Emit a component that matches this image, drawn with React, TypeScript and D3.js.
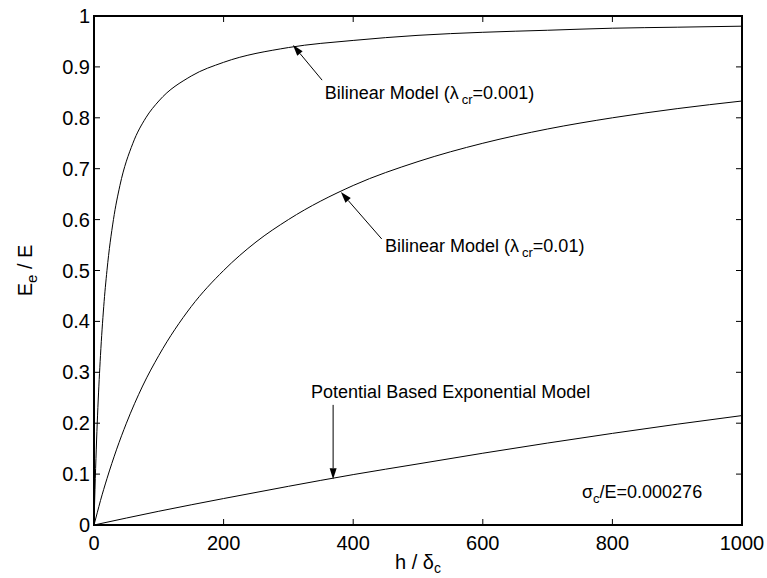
import React, { useEffect, useRef } from "react";
import * as d3 from "d3";

// values
const hValues1 = [0, 1, 2, 4, 6, 10, 15, 20, 30, 40, 60, 80, 100, 150, 200, 300, 400, 500, 600, 700, 800, 900, 1000];
const bilinear001 = [0, 0.048, 0.091, 0.167, 0.231, 0.333, 0.429, 0.5, 0.6, 0.667, 0.75, 0.8, 0.833, 0.882, 0.909, 0.938, 0.952, 0.962, 0.968, 0.972, 0.976, 0.978, 0.98];

const hValues2 = [0, 5, 10, 20, 35, 50, 75, 100, 150, 200, 250, 300, 400, 500, 600, 700, 800, 900, 1000];
const bilinear01 = [0, 0.024, 0.048, 0.091, 0.149, 0.2, 0.273, 0.333, 0.429, 0.5, 0.556, 0.6, 0.667, 0.714, 0.75, 0.778, 0.8, 0.818, 0.833];

const hValues3 = [0, 100, 200, 300, 400, 500, 600, 700, 800, 900, 1000];
const exponential = [0, 0.027, 0.052, 0.076, 0.099, 0.12, 0.141, 0.161, 0.18, 0.198, 0.215];

const xTicks = [0, 200, 400, 600, 800, 1000];
const yTicks = [0, 0.1, 0.2, 0.3, 0.4, 0.5, 0.6, 0.7, 0.8, 0.9, 1];

// annotation anchors in data units: arrow tip, arrow tail, label start
const annotations = [
    {tip: [307, 0.943], tail: [352, 0.874], text: [356, 0.837], main: "Bilinear Model (", sub: "cr", rest: "=0.001)"},
    {tip: [381, 0.654], tail: [444, 0.562], text: [449, 0.536], main: "Bilinear Model (", sub: "cr", rest: "=0.01)"},
    {tip: [369, 0.09], tail: [369, 0.236], text: [335, 0.25], main: "Potential Based Exponential Model", sub: "", rest: ""},
];

const FONT = "'Liberation Sans', Arial, Helvetica, sans-serif";

const App = () => {
    const ref = useRef<SVGSVGElement>(null);

    useEffect(() => {
        const w = 767;
        const h = 578;
        const margin = {left: 94, right: 25, top: 16, bottom: 53};

        const svg = d3.select(ref.current)
            .attr("width", w)
            .attr("height", h)
            .style("background", "white");

        svg.selectAll("*").remove();

        const xScale = d3.scaleLinear().domain([0, 1000]).range([margin.left, w - margin.right]);
        const yScale = d3.scaleLinear().domain([0, 1]).range([h - margin.bottom, margin.top]);

        const x0 = xScale(0), x1 = xScale(1000), y0 = yScale(0), y1 = yScale(1);

        // ticks (inside, on all four sides)
        const tickLen = 6;
        const ticks = svg.append("g").attr("stroke", "black").attr("stroke-width", 1);
        xTicks.forEach(t => {
            ticks.append("line").attr("x1", xScale(t)).attr("x2", xScale(t)).attr("y1", y0).attr("y2", y0 - tickLen);
            ticks.append("line").attr("x1", xScale(t)).attr("x2", xScale(t)).attr("y1", y1).attr("y2", y1 + tickLen);
        });
        yTicks.forEach(t => {
            ticks.append("line").attr("x1", x0).attr("x2", x0 + tickLen).attr("y1", yScale(t)).attr("y2", yScale(t));
            ticks.append("line").attr("x1", x1).attr("x2", x1 - tickLen).attr("y1", yScale(t)).attr("y2", yScale(t));
        });

        // tick labels
        svg.append("g")
            .selectAll("text")
            .data(xTicks)
            .join("text")
            .attr("x", d => xScale(d))
            .attr("y", y0 + 25)
            .attr("text-anchor", "middle")
            .attr("font-family", FONT)
            .attr("font-size", 20)
            .text(d => d3.format("")(d));

        svg.append("g")
            .selectAll("text")
            .data(yTicks)
            .join("text")
            .attr("x", x0 - 4)
            .attr("y", d => yScale(d) + 7)
            .attr("text-anchor", "end")
            .attr("font-family", FONT)
            .attr("font-size", 20)
            .text(d => d3.format("")(d));

        // curves
        const line = d3.line<[number, number]>()
            .x(d => xScale(d[0]))
            .y(d => yScale(d[1]))
            .curve(d3.curveMonotoneX);

        const series: [number[], number[]][] = [
            [hValues1, bilinear001],
            [hValues2, bilinear01],
            [hValues3, exponential],
        ];
        series.forEach(([xs, ys]) => {
            svg.append("path")
                .attr("d", line(xs.map((v, i) => [v, ys[i]] as [number, number])))
                .attr("fill", "none")
                .attr("stroke", "black")
                .attr("stroke-width", 1);
        });

        // frame
        svg.append("rect")
            .attr("x", x0)
            .attr("y", y1)
            .attr("width", x1 - x0)
            .attr("height", y0 - y1)
            .attr("fill", "none")
            .attr("stroke", "black")
            .attr("stroke-width", 2);

        // annotations with arrows
        annotations.forEach(a => {
            const tx = xScale(a.tip[0]), ty = yScale(a.tip[1]);
            const sx = xScale(a.tail[0]), sy = yScale(a.tail[1]);
            const ang = Math.atan2(ty - sy, tx - sx);
            const headLen = 11, headW = 3.5;
            const bx = tx - headLen * Math.cos(ang), by = ty - headLen * Math.sin(ang);
            svg.append("line")
                .attr("x1", sx).attr("y1", sy).attr("x2", bx).attr("y2", by)
                .attr("stroke", "black").attr("stroke-width", 1);
            const px = -Math.sin(ang) * headW, py = Math.cos(ang) * headW;
            svg.append("polygon")
                .attr("points", `${tx},${ty} ${bx + px},${by + py} ${bx - px},${by - py}`)
                .attr("fill", "black");

            const t = svg.append("text")
                .attr("x", xScale(a.text[0]))
                .attr("y", yScale(a.text[1]))
                .attr("font-family", FONT)
                .attr("font-size", 18);
            t.append("tspan").text(a.main);
            if (a.sub) {
                t.append("tspan").text("\u03bb");
                t.append("tspan").attr("dx", 3).attr("dy", 5).attr("font-size", 13).text(a.sub);
                t.append("tspan").attr("dy", -5).text(a.rest);
            }
        });

        const sig = svg.append("text")
            .attr("x", xScale(753))
            .attr("y", yScale(0.053))
            .attr("font-family", FONT)
            .attr("font-size", 18);
        sig.append("tspan").text("\u03c3");
        sig.append("tspan").attr("dy", 5).attr("font-size", 13).text("c");
        sig.append("tspan").attr("dy", -5).text("/E=0.000276");

        // axis titles
        const xl = svg.append("text")
            .attr("x", (x0 + x1) / 2)
            .attr("y", 569)
            .attr("text-anchor", "middle")
            .attr("font-family", FONT)
            .attr("font-size", 20);
        xl.append("tspan").text("h / \u03b4");
        xl.append("tspan").attr("dy", 4).attr("font-size", 14).text("c");

        const yl = svg.append("text")
            .attr("transform", `translate(32, ${(y0 + y1) / 2}) rotate(-90)`)
            .attr("text-anchor", "middle")
            .attr("font-family", FONT)
            .attr("font-size", 20);
        yl.append("tspan").text("E");
        yl.append("tspan").attr("dy", 5).attr("font-size", 15).text("e");
        yl.append("tspan").attr("dy", -5).text(" / E");
    }, []);

    return (
        <div style={{position: "absolute", left: 0, top: 0}}>
            <svg ref={ref}></svg>
        </div>
    );
};

export default App;
